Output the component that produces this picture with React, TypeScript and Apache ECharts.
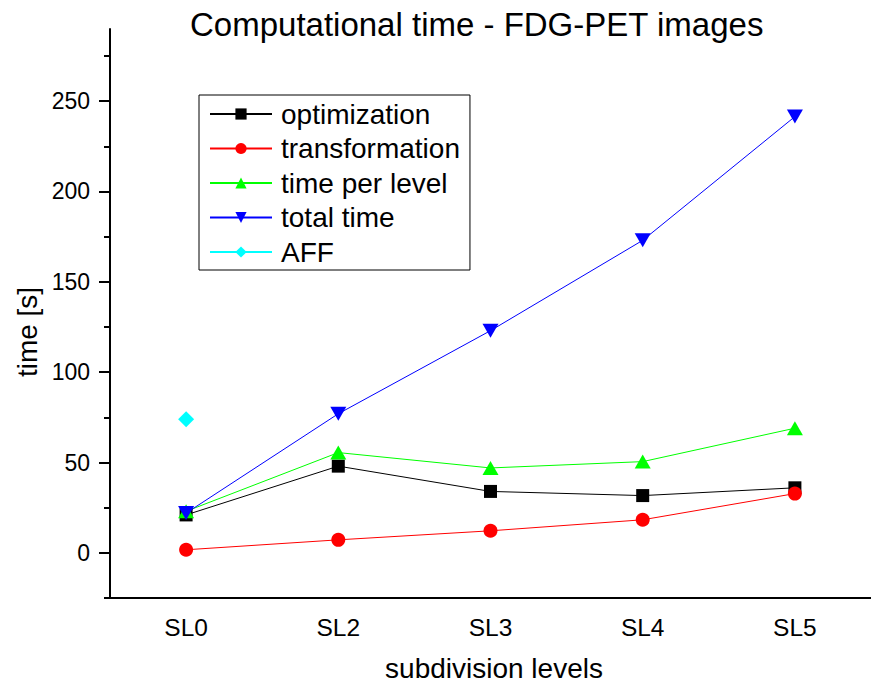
import React, { useEffect, useRef } from "react";
import * as echarts from "echarts";

const categories = ["SL0", "SL2", "SL3", "SL4", "SL5"];
const optimization = [21, 48, 34, 31.7, 36];
const transformation = [1.7, 7.2, 12.2, 18.3, 32.8];
const timePerLevel = [23, 55.5, 47, 50.5, 69];
const totalTime = [22, 77, 123, 173, 241.5];
const aff: (number | string)[] = [74, "-", "-", "-", "-"];
const majorTicks = { min: 0, max: 250, interval: 50 };
const minorTicks = { min: -25, max: 275, interval: 50 };

const FONT = "Liberation Sans, Arial, sans-serif";
const DOWN_TRI = "path://M0,0L20,0L10,18Z";

export default function App() {
  const ref = useRef<HTMLDivElement>(null);
  useEffect(() => {
    if (!ref.current) return;
    const chart = echarts.init(ref.current, undefined, { renderer: "svg" });
    const mk = (name: string, data: any[], color: string, symbol: string, size: any) => ({
      name,
      type: "line",
      data,
      xAxisIndex: 0,
      yAxisIndex: 0,
      symbol,
      symbolSize: size,
      showAllSymbol: true,
      lineStyle: { color, width: 1 },
      itemStyle: { color },
      emphasis: { disabled: true },
    });
    chart.setOption({
      animation: false,
      textStyle: { fontFamily: FONT, color: "#000" },
      title: {
        text: "Computational time - FDG-PET images",
        left: 185,
        top: 3,
        textStyle: { fontSize: 33, fontWeight: "normal", color: "#000", fontFamily: FONT },
      },
      legend: {
        left: 199,
        top: 95,
        orient: "vertical",
        selectedMode: false,
        borderColor: "#000",
        borderWidth: 1,
        borderRadius: 0,
        padding: [5, 10, 4, 10],
        itemGap: 6.5,
        itemWidth: 62,
        itemHeight: 14,
        textStyle: { fontSize: 28, lineHeight: 28, color: "#000", fontFamily: FONT, padding: [0, 0, 0, 4] },
        data: ["optimization", "transformation", "time per level", "total time", "AFF"],
      },
      grid: [
        { left: 110, top: 29, width: 770, height: 569 },
        { left: 110, top: 101, width: 770, height: 452 },
        { left: 110, top: 56, width: 770, height: 542 },
      ],
      xAxis: [
        {
          gridIndex: 0,
          type: "category",
          data: categories,
          boundaryGap: true,
          axisLine: { onZero: false, lineStyle: { color: "#000", width: 2 } },
          axisTick: { alignWithLabel: true, length: 10, lineStyle: { color: "#000", width: 2 } },
          axisLabel: { fontSize: 24.5, color: "#000", margin: 17, fontFamily: FONT },
          splitLine: { show: false },
        },
        { gridIndex: 1, type: "category", data: categories, show: false },
        { gridIndex: 2, type: "category", data: categories, show: false },
      ],
      yAxis: [
        {
          gridIndex: 0,
          type: "value",
          min: -25,
          max: 290,
          axisLine: { show: true, onZero: false, lineStyle: { color: "#000", width: 2 } },
          axisTick: { show: false },
          axisLabel: { show: false },
          splitLine: { show: false },
        },
        {
          gridIndex: 1,
          type: "value",
          min: majorTicks.min,
          max: majorTicks.max,
          interval: majorTicks.interval,
          axisLine: { show: false },
          axisTick: { show: true, length: 11, lineStyle: { color: "#000", width: 2 } },
          axisLabel: { fontSize: 23, color: "#000", margin: 20, fontFamily: FONT },
          splitLine: { show: false },
        },
        {
          gridIndex: 2,
          type: "value",
          min: minorTicks.min,
          max: minorTicks.max,
          interval: minorTicks.interval,
          axisLine: { show: false },
          axisTick: { show: true, length: 6, lineStyle: { color: "#000", width: 2 } },
          axisLabel: { show: false },
          splitLine: { show: false },
        },
      ],
      graphic: [
        {
          type: "text",
          x: 494,
          y: 668,
          style: {
            text: "subdivision levels",
            fontSize: 28,
            fontFamily: FONT,
            fill: "#000",
            align: "center",
            verticalAlign: "middle",
          },
        },
        {
          type: "text",
          x: 27,
          y: 332,
          rotation: Math.PI / 2,
          style: {
            text: "time [s]",
            fontSize: 28,
            fontFamily: FONT,
            fill: "#000",
            align: "center",
            verticalAlign: "middle",
          },
        },
      ],
      series: [
        mk("optimization", optimization, "#000000", "rect", [13, 13]),
        mk("transformation", transformation, "#ff0000", "circle", 14),
        mk("time per level", timePerLevel, "#00ff00", "triangle", [16, 14]),
        mk("total time", totalTime, "#0000ff", DOWN_TRI, [16, 14]),
        mk("AFF", aff, "#00ffff", "diamond", [16, 16]),
      ],
    });
    return () => chart.dispose();
  }, []);
  return (
    <div
      ref={ref}
      style={{ position: "absolute", left: 0, top: 0, width: 871, height: 684, background: "#fff" }}
    />
  );
}
